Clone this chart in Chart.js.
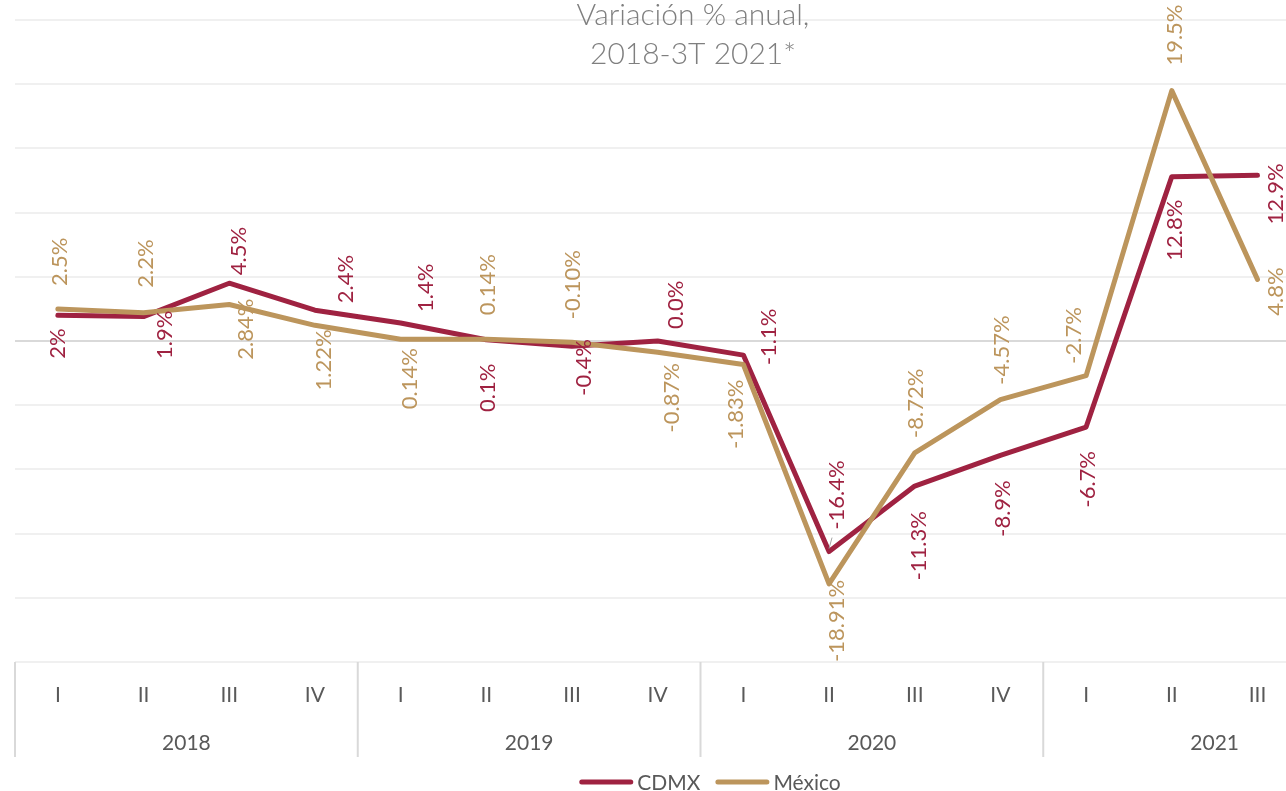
<!DOCTYPE html>
<html><head><meta charset="utf-8">
<script src="https://cdn.jsdelivr.net/npm/chart.js@4.4.1/dist/chart.umd.min.js"></script>
<style>
html,body{margin:0;padding:0;background:#fff;overflow:hidden;width:1286px;height:791px;}
#wrap{position:relative;width:1400px;height:791px;}
</style></head><body>
<div id="wrap"><canvas id="c" width="1400" height="791"></canvas></div>
<script>
// ---- data ----
const quarters = ['I','II','III','IV','I','II','III','IV','I','II','III','IV','I','II','III','IV'];
const years = ['2018','2019','2020','2021'];
const cdmx   = [2.0, 1.9, 4.5, 2.4, 1.4, 0.1, -0.4, 0.0, -1.1, -16.4, -11.3, -8.9, -6.7, 12.8, 12.9, null];
const mexico = [2.5, 2.2, 2.84, 1.22, 0.14, 0.14, -0.10, -0.87, -1.83, -18.91, -8.72, -4.57, -2.7, 19.5, 4.8, null];
const cdmxText   = ['2%','1.9%','4.5%','2.4%','1.4%','0.1%','-0.4%','0.0%','-1.1%','-16.4%','-11.3%','-8.9%','-6.7%','12.8%','12.9%',''];
const mexicoText = ['2.5%','2.2%','2.84%','1.22%','0.14%','0.14%','-0.10%','-0.87%','-1.83%','-18.91%','-8.72%','-4.57%','-2.7%','19.5%','4.8%',''];
const titleLines = ['Variación % anual,', '2018-3T 2021*'];

// ---- label placement (style) ----
const cdmxPos = ['b','b','a','a','a','b','b','a','a','a','b','b','b','b','b',''];
const cdmxDx  = [-1,20,9,30,24,1,11,17,25,7,3,2,1,2,18,0];
const cdmxGap = [13,-6,8,7,11,24,-7,12,-10,22,25,25,24,23,-12,0];
const mexPos  = ['a','a','b','b','b','a','a','b','b','b','a','a','a','a','b',''];
const mexDx   = [1,1,16,8,8,1,0,13,-8,7,0,1,-13,2,18,0];
const mexGap  = [23,25,-6,4,9,24,23,11,15,-4,15,15,12,25,-12,0];

const RED = '#9F2241', GOLD = '#BC955C', TXT = '#595959';
const FONT = 'Lato, "Open Sans", sans-serif';

const labelPlugin = {
  id: 'pointLabels',
  afterDatasetsDraw(chart) {
    const ctx = chart.ctx;
    chart.data.datasets.forEach((ds, di) => {
      const meta = chart.getDatasetMeta(di);
      const pl = ds.placement;
      meta.data.forEach((pt, i) => {
        const t = ds.labelText[i];
        if (!t || ds.data[i] === null) return;
        const above = pl.pos[i] === 'a';
        ctx.save();
        ctx.font = '22px ' + FONT;
        ctx.fillStyle = ds.borderColor;
        ctx.translate(pt.x + pl.dx[i] + 8, above ? pt.y - pl.gap[i] : pt.y + pl.gap[i]);
        ctx.rotate(-Math.PI / 2);
        ctx.textAlign = above ? 'left' : 'right';
        ctx.textBaseline = 'alphabetic';
        ctx.fillText(t, 0, 0);
        ctx.restore();
      });
    });
    // small leader line for the CDMX 2020-II label
    const m = chart.getDatasetMeta(1).data[9];
    if (m) {
      ctx.save();
      ctx.strokeStyle = '#a6a6a6';
      ctx.lineWidth = 1;
      ctx.beginPath();
      ctx.moveTo(m.x + 3, m.y - 14);
      ctx.lineTo(m.x, m.y - 3);
      ctx.stroke();
      ctx.restore();
    }
  }
};

const decorPlugin = {
  id: 'decor',
  afterDraw(chart) {
    const ctx = chart.ctx, xs = chart.scales.x, area = chart.chartArea;
    const step = xs.getPixelForValue(1) - xs.getPixelForValue(0);
    ctx.save();
    // x axis: quarters
    ctx.font = '21px ' + FONT;
    ctx.fillStyle = TXT;
    ctx.textAlign = 'center';
    ctx.textBaseline = 'alphabetic';
    quarters.forEach((q, i) => ctx.fillText(q, xs.getPixelForValue(i), area.bottom + 40));
    // years + separators
    ctx.strokeStyle = '#d9d9d9';
    ctx.lineWidth = 2;
    years.forEach((y, g) => {
      const l = xs.getPixelForValue(g * 4) - step / 2;
      const r = xs.getPixelForValue(g * 4 + 3) + step / 2;
      ctx.fillText(y, (l + r) / 2, area.bottom + 88);
      ctx.beginPath();
      ctx.moveTo(l, area.bottom);
      ctx.lineTo(l, area.bottom + 95);
      ctx.stroke();
    });
    // title
    ctx.font = '300 30px ' + FONT;
    ctx.fillStyle = '#7f7f7f';
    ctx.fillText(titleLines[0], 693, 25);
    ctx.fillText(titleLines[1], 693, 64);
    // legend
    const order = [1, 0];
    ctx.font = '21px ' + FONT;
    const sw = 54, gapT = 4, gapI = 15;
    let total = 0;
    order.forEach((di, k) => {
      total += sw + gapT + ctx.measureText(chart.data.datasets[di].label).width + (k < order.length - 1 ? gapI : 0);
    });
    let x = 710 - total / 2;
    const ly = 782;
    ctx.textAlign = 'left';
    order.forEach(di => {
      const ds = chart.data.datasets[di];
      ctx.strokeStyle = ds.borderColor;
      ctx.lineWidth = 5;
      ctx.lineCap = 'round';
      ctx.beginPath();
      ctx.moveTo(x + 2.5, ly);
      ctx.lineTo(x + sw - 2.5, ly);
      ctx.stroke();
      x += sw + gapT;
      ctx.fillStyle = TXT;
      ctx.fillText(ds.label, x, ly + 7.5);
      x += ctx.measureText(ds.label).width + gapI;
    });
    ctx.restore();
  }
};

new Chart(document.getElementById('c'), {
  type: 'line',
  data: {
    labels: quarters,
    datasets: [
      { label: 'México', data: mexico, labelText: mexicoText,
        placement: {pos: mexPos, dx: mexDx, gap: mexGap},
        borderColor: GOLD, backgroundColor: GOLD, borderWidth: 5,
        pointRadius: 0, tension: 0, borderCapStyle: 'round', borderJoinStyle: 'round', fill: false },
      { label: 'CDMX', data: cdmx, labelText: cdmxText,
        placement: {pos: cdmxPos, dx: cdmxDx, gap: cdmxGap},
        borderColor: RED, backgroundColor: RED, borderWidth: 5,
        pointRadius: 0, tension: 0, borderCapStyle: 'round', borderJoinStyle: 'round', fill: false }
    ]
  },
  options: {
    responsive: false,
    animation: false,
    layout: { padding: { top: 20, right: 14, left: 0, bottom: 0 } },
    plugins: { legend: { display: false }, title: { display: false }, tooltip: { enabled: false } },
    scales: {
      x: {
        type: 'category', offset: true,
        grid: { display: false, drawTicks: false },
        border: { display: false },
        ticks: { display: false },
        afterFit(s) { s.height = 129; }
      },
      y: {
        min: -25, max: 25,
        ticks: { display: false, stepSize: 5 },
        border: { display: false },
        grid: { drawTicks: false, lineWidth: 2,
                color: c => (c.tick && c.tick.value === 0) ? '#d9d9d9' : '#f0f0f0' },
        afterFit(s) { s.width = 15; }
      }
    }
  },
  plugins: [labelPlugin, decorPlugin]
});
</script>
</body></html>
